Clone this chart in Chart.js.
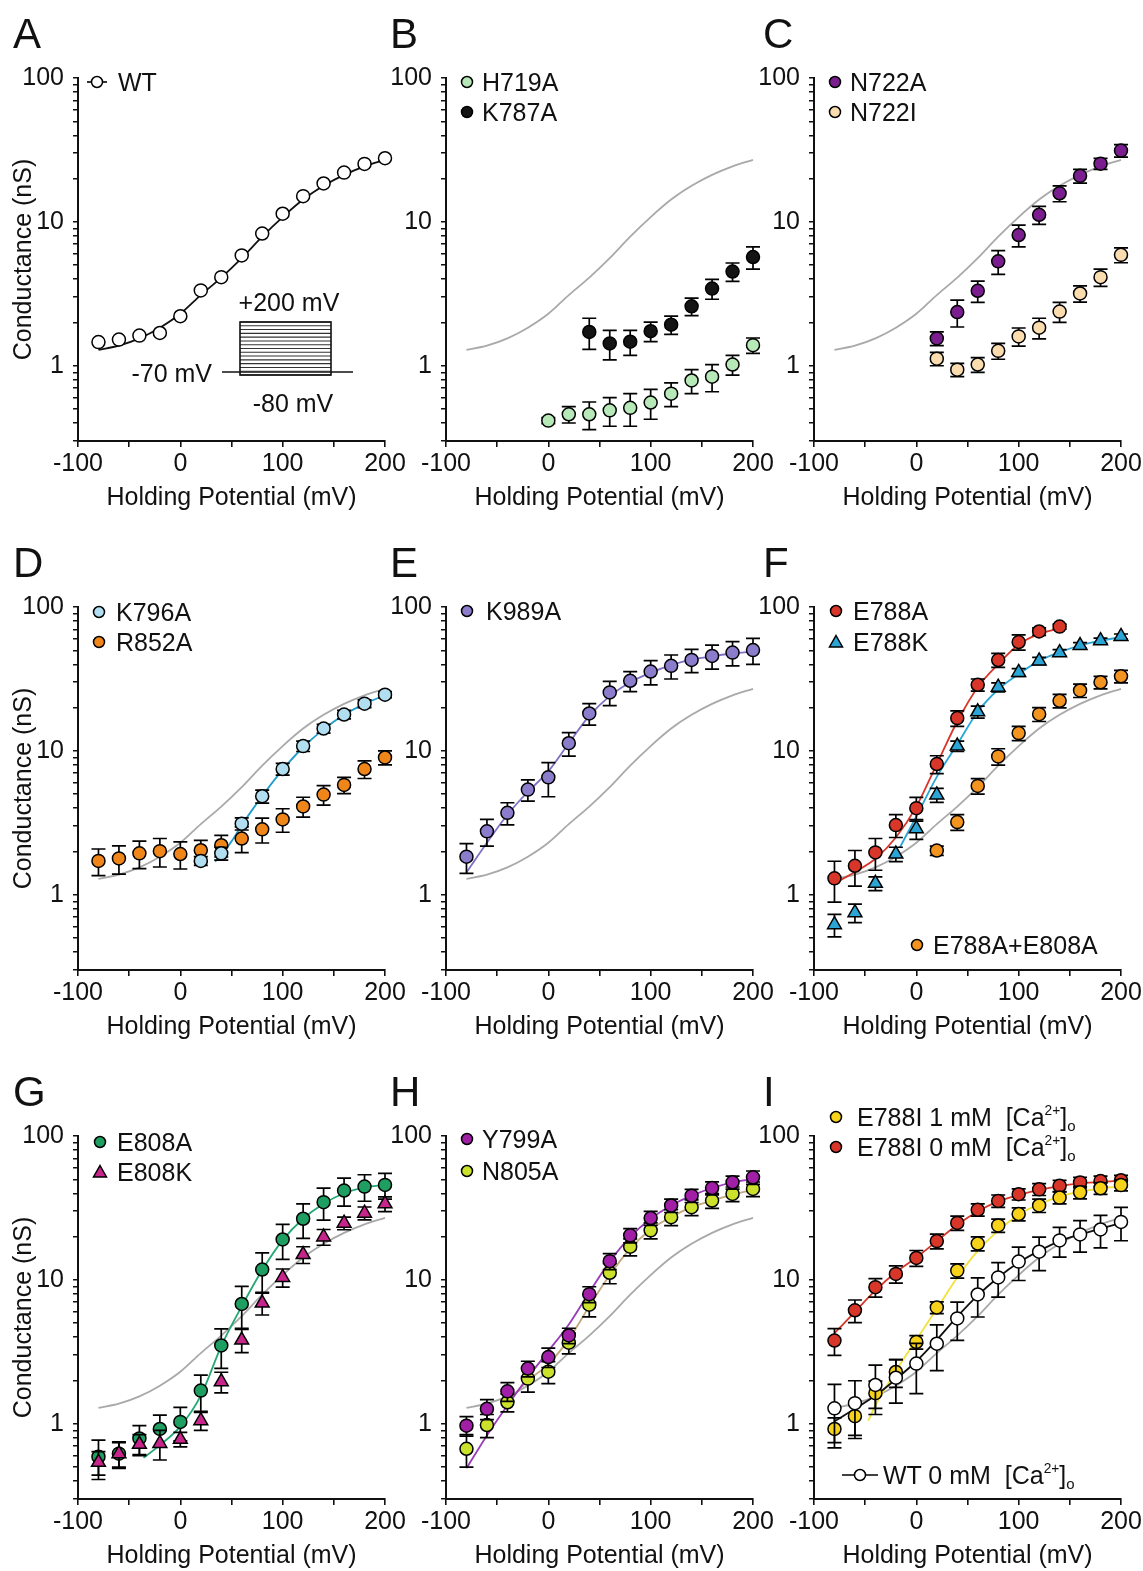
<!DOCTYPE html>
<html>
<head>
<meta charset="utf-8">
<script src="https://cdn.jsdelivr.net/npm/chart.js"></script>
<style>
html,body{margin:0;padding:0;background:#fff;}
body{width:1143px;height:1571px;position:relative;overflow:hidden;font-family:"Liberation Sans",Arial,Helvetica,sans-serif;color:#111;}
canvas{position:absolute;}
.letter{position:absolute;font-size:42px;line-height:1;z-index:5;}
.lt{position:absolute;font-size:25px;line-height:1;white-space:nowrap;transform:translateY(-50%);z-index:5;}
.lt sup{font-size:0.55em;line-height:0;vertical-align:0.8em;}
.lt sub{font-size:0.6em;line-height:0;vertical-align:-0.35em;}
svg.mk{position:absolute;z-index:5;overflow:visible;}
</style>
</head>
<body>
<script>
// ---------- data ----------
const V    = [-80,-60,-40,-20,0,20,40,60,80,100,120,140,160,180,200];
const V0   = [0,20,40,60,80,100,120,140,160,180,200];
const V20  = [20,40,60,80,100,120,140,160,180,200];
const V40  = [40,60,80,100,120,140,160,180,200];
const V140 = [-80,-60,-40,-20,0,20,40,60,80,100,120,140];

const yTicks  = [0.3,0.4,0.5,0.6,0.7,0.8,0.9,1,2,3,4,5,6,7,8,9,10,20,30,40,50,60,70,80,90,100];
const yLabels = [1,10,100];
const xTicks  = [-100,-50,0,50,100,150,200];
const xLabels = [-100,0,100,200];

// A
const wtG   = [1.46,1.52,1.62,1.69,2.21,3.34,4.13,5.85,8.3,11.4,15.1,18.5,22,25.3,27.7];
const wtFit = [1.29,1.38,1.55,1.84,2.3,3.1,4.1,5.6,7.9,10.8,14.3,17.8,21.2,24.3,27.0];
// B
const h719G = [0.416,0.46,0.46,0.49,0.51,0.555,0.64,0.79,0.84,1.02,1.39];
const h719E = [0.02,0.06,0.1,0.11,0.13,0.13,0.12,0.15,0.18,0.16,0.17];
const k787G = [1.72,1.43,1.47,1.74,1.93,2.59,3.44,4.52,5.7];
const k787E = [0.42,0.33,0.29,0.27,0.28,0.36,0.54,0.66,1.0];
// C
const n722aG = [1.55,2.36,3.32,5.32,8.1,11.2,15.8,20.9,25.4,31.3];
const n722aE = [0.17,0.5,0.56,1.0,1.4,1.6,2.0,2.3,2.2,3.1];
const n722iG = [1.12,0.94,1.02,1.27,1.6,1.84,2.38,3.18,4.13,5.9];
const n722iE = [0.12,0.1,0.12,0.16,0.23,0.3,0.38,0.41,0.57,0.7];
// D
const k796G = [1.72,1.94,3.12,4.84,7.48,10.8,14.3,17.9,21.3,24.6];
const k796E = [0.12,0.2,0.3,0.5,0.7,0.9,1.0,1.2,1.3,1.2];
const k796FitV = [34,40,50,60,80,100,120,140,160,180,200];
const k796Fit  = [1.7,1.9,2.35,3.05,4.85,7.4,10.6,14.1,17.8,21.2,24.4];
const r852G = [1.72,1.79,1.94,2.01,1.92,2.04,2.21,2.46,2.85,3.34,4.11,4.97,5.8,7.48,9.0];
const r852E = [0.36,0.4,0.42,0.45,0.41,0.35,0.38,0.5,0.56,0.62,0.65,0.77,0.75,1.05,1.0];
// E
const k989G = [1.84,2.76,3.71,5.38,6.55,11.3,18.2,25.5,30.7,35.6,39,42.9,45.7,48.2,50.2];
const k989E = [0.43,0.58,0.65,0.9,1.75,2.1,3.1,4.9,4.9,6.8,7.4,7.9,8.7,9.2,10.3];
const k989Fit = [1.43,2.3,3.6,5.2,7.2,11.3,17.5,24,30,35,39.5,43,45.5,47.5,49];
// F
const e788aG = [1.30,1.59,1.97,3.05,4.0,8.1,16.9,28.8,42.8,57.1,67.6,73.1];
const e788aE = [0.41,0.44,0.49,0.55,0.75,1.15,2.1,2.8,4.8,7,4,3];
const e788aFit = [1.2,1.44,1.78,2.5,4.1,8.1,16,27.7,40,54.8,65,71];
const e788kG = [0.62,0.75,1.2,1.92,2.88,4.94,10.8,18.7,27.7,35.1,42.2,48.1,54,58.3,62.4];
const e788kE = [0.11,0.11,0.13,0.22,0.45,0.55,0.9,1.8,2,2.2,2.5,2.5,2.5,2.5,2.5];
const e788kFitV = [-16,0,20,40,60,80,100,120,140,160,180,200];
const e788kFit  = [2.14,3.5,6.6,11.1,18.7,26.7,34.2,42.2,48.5,54,58.3,61.8];
const e788a808G = [2.03,3.2,5.71,9.15,13.3,18,22.3,26.3,30,33];
const e788a808E = [0.15,0.4,0.7,1.2,1.5,2,2.4,2.8,3,3.3];
// G
const e808aG = [0.59,0.62,0.79,0.92,1.03,1.70,3.5,6.8,11.8,19.1,26.6,34.7,41.8,44.5,45.7];
const e808aE = [0.18,0.13,0.18,0.23,0.27,0.48,1.07,2.2,3.6,5.2,7.2,8.7,9.2,9.3,9.3];
const e808aFitV = [-36,-20,0,20,40,60,80,100,120,140,160,180,200];
const e808aFit  = [0.58,0.71,0.96,1.57,3.47,6.55,11.7,18.9,26.6,33.8,40,44,45.7];
const e808kG = [0.54,0.62,0.72,0.73,0.78,1.05,1.96,3.82,6.9,10.4,15.0,19.9,24.8,29.1,33.8];
const e808kE = [0.1,0.12,0.12,0.17,0.09,0.15,0.32,0.7,1.2,1.5,2,2.5,2.5,3,4];
// H
const y799G = [0.97,1.27,1.68,2.42,2.91,4.11,7.96,13.5,20.4,26.9,32.9,38.5,43.5,47.7,51.6];
const y799E = [0.15,0.2,0.25,0.3,0.45,0.5,1,1.7,2.3,3,3.5,4,4.5,5,5.5];
const y799Fit = [0.49,0.83,1.34,2.1,3.2,4.9,8.2,13.4,19.9,26.6,32.9,38.5,43.5,47.7,50.2];
const n805G = [0.67,0.98,1.41,2.06,2.3,3.66,6.73,11.2,17,22.1,27.3,32,35.6,39.6,42.9];
const n805E = [0.17,0.18,0.2,0.4,0.4,0.6,1.2,1.8,2.3,2.8,3.5,4,4.2,4.6,5];
const n805FitV = [-40,-20,0,20,40,60,80,100,120,140,160,180,200];
const n805Fit  = [1.41,1.99,2.6,3.86,6.55,10.8,16.5,22.4,27.3,32,35.6,39.2,42.2];
// I
const e788i1G = [0.92,1.13,1.63,2.29,3.7,6.43,11.6,17.9,23.9,28.7,32.9,37.3,40.6,43.3,45.6];
const e788i1E = [0.18,0.3,0.35,0.5,0.4,0.6,1.3,2,2.5,3,3.5,3.5,4,4,4];
const e788i1FitV = [-47,-40,-20,0,20,40,60,80,100,120,140,160,180,200];
const e788i1Fit  = [1.05,1.34,2.32,3.83,6.3,10.4,15.9,22,28.4,33.6,37.9,41,43.3,44.4];
const e788i0G = [3.79,6.15,8.9,11,14.2,18.6,24.9,30.7,35.4,39.4,42.6,45.1,47.6,48.6,49.3];
const e788i0E = [0.8,1.1,1.3,1.5,1.8,2.2,2.8,3,3.5,3.5,4,4,4,4,4];
const e788i0Fit = [4.26,6.0,8.45,11.3,14.3,18.6,24.2,29.9,35.1,38.9,42.2,44.9,46.8,48,48.8];
const wt0G = [1.28,1.39,1.86,2.09,2.62,3.6,5.4,7.92,10.4,13.4,15.7,18.8,20.7,22.4,25.3];
const wt0E = [0.6,0.6,0.7,0.7,1.0,1.26,1.6,2.4,2.8,3.5,4.1,4.4,5.1,5.7,6.6];
const wt0Fit = [1.04,1.27,1.57,2.04,2.72,3.83,5.55,7.8,10.4,13.2,15.9,18.6,20.7,22.7,24.9];

// ---------- style / layout ----------
const FONT = '"Liberation Sans", Arial, Helvetica, sans-serif';
const FS = 25;
const INK = '#111';
const GRAY = '#a9a9a9';
const COLX = [78, 446, 814];
const ROWY = [78, 607, 1136];
const PW = 307, PH = 363;
const PADL = 78, PADT = 34, PADR = 30, XAH = 74, PADB = 0;

Chart.defaults.font.family = FONT;
Chart.defaults.color = INK;

function pts(xs, ys){ return xs.map((x,i)=>({x:x, y:ys[i]})); }
function curve(xs, ys, color, order){
  return {data:pts(xs,ys), showLine:true, pointRadius:0, borderColor:color, borderWidth:1.8,
          cubicInterpolationMode:'monotone', fill:false, order:order, clip:false};
}
function marks(xs, ys, errs, fill, style, order){
  return {data:pts(xs,ys), showLine:false, pointStyle:style||'circle',
          pointRadius: style==='triangle' ? 8 : 6.5, backgroundColor:fill, borderColor:'#000',
          borderWidth:1.5, errors:errs, order:order, clip:false};
}

const errorBars = {
  id:'errorBars',
  beforeDatasetDraw(chart, args){
    const ds = chart.data.datasets[args.index];
    if(!ds.errors) return;
    const xs = chart.scales.x, ys = chart.scales.y, ctx = chart.ctx;
    ctx.save(); ctx.strokeStyle = '#000'; ctx.lineWidth = 1.7;
    ds.data.forEach((p,i)=>{
      const e = ds.errors[i]; if(!e) return;
      const px = xs.getPixelForValue(p.x);
      const hi = ys.getPixelForValue(p.y + e);
      const lo = ys.getPixelForValue(Math.max(p.y - e, 0.05));
      ctx.beginPath();
      ctx.moveTo(px,hi); ctx.lineTo(px,lo);
      ctx.moveTo(px-7,hi); ctx.lineTo(px+7,hi);
      ctx.moveTo(px-7,lo); ctx.lineTo(px+7,lo);
      ctx.stroke();
    });
    ctx.restore();
  }
};

const C = {
  h719:'#b6e8b8', k787:'#141414', n722a:'#7a1d8e', n722i:'#fbdcae', k796:'#b2def2', k796l:'#1e9ccb',
  r852:'#f0861a', k989:'#8c7dcc', k989l:'#8070c4', e788a:'#d9362a', e788k:'#2aa5d6', e788a808:'#f39320',
  e808a:'#1f9e62', e808al:'#22a874', e808k:'#c7258c', y799:'#a11fa6', y799l:'#9a3cb8', n805:'#cbe12c',
  n805l:'#c2a97e', e788i1:'#f6d21a', e788i1l:'#f2e23a', e788i0:'#d9362a', wt:'#ffffff'
};

const panels = [
  {key:'A', row:0, col:0, datasets:[ curve(V,wtFit,'#111',10), marks(V,wtG,null,C.wt,'circle',0) ],
   legend:[{m:'lc', fill:C.wt, cx:19, lw:20, cy:4, tx:40, t:'WT'}]},
  {key:'B', row:0, col:1, datasets:[ curve(V,wtFit,GRAY,20), marks(V40,k787G,k787E,C.k787,'circle',1), marks(V0,h719G,h719E,C.h719,'circle',0) ],
   legend:[{m:'c', fill:C.h719, cx:21, cy:4, tx:36, t:'H719A'},{m:'c', fill:C.k787, cx:21, cy:34, tx:36, t:'K787A'}]},
  {key:'C', row:0, col:2, datasets:[ curve(V,wtFit,GRAY,20), marks(V20,n722iG,n722iE,C.n722i,'circle',1), marks(V20,n722aG,n722aE,C.n722a,'circle',0) ],
   legend:[{m:'c', fill:C.n722a, cx:21, cy:4, tx:36, t:'N722A'},{m:'c', fill:C.n722i, cx:21, cy:34, tx:36, t:'N722I'}]},
  {key:'D', row:1, col:0, datasets:[ curve(V,wtFit,GRAY,20), curve(k796FitV,k796Fit,C.k796l,10), marks(V,r852G,r852E,C.r852,'circle',1), marks(V20,k796G,k796E,C.k796,'circle',0) ],
   legend:[{m:'c', fill:C.k796, cx:21, cy:5, tx:38, t:'K796A'},{m:'c', fill:C.r852, cx:21, cy:35, tx:38, t:'R852A'}]},
  {key:'E', row:1, col:1, datasets:[ curve(V,wtFit,GRAY,20), curve(V,k989Fit,C.k989l,10), marks(V,k989G,k989E,C.k989,'circle',0) ],
   legend:[{m:'c', fill:C.k989, cx:21, cy:4, tx:40, t:'K989A'}]},
  {key:'F', row:1, col:2, datasets:[ curve(V,wtFit,GRAY,20), curve(V140,e788aFit,C.e788a,10), curve(e788kFitV,e788kFit,C.e788k,11),
      marks(V20,e788a808G,e788a808E,C.e788a808,'circle',2), marks(V,e788kG,e788kE,C.e788k,'triangle',1), marks(V140,e788aG,e788aE,C.e788a,'circle',0) ],
   legend:[{m:'c', fill:C.e788a, cx:22, cy:4, tx:39, t:'E788A'},{m:'t', fill:C.e788k, cx:22, cy:35, tx:39, t:'E788K'},
           {m:'c', fill:C.e788a808, cx:103, cy:338, tx:119, t:'E788A+E808A'}]},
  {key:'G', row:2, col:0, datasets:[ curve(V,wtFit,GRAY,20), curve(e808aFitV,e808aFit,C.e808al,10),
      marks(V,e808aG,e808aE,C.e808a,'circle',1), marks(V,e808kG,e808kE,C.e808k,'triangle',0) ],
   legend:[{m:'c', fill:C.e808a, cx:22, cy:6, tx:39, t:'E808A'},{m:'t', fill:C.e808k, cx:22, cy:36, tx:39, t:'E808K'}]},
  {key:'H', row:2, col:1, datasets:[ curve(V,wtFit,GRAY,20), curve(n805FitV,n805Fit,C.n805l,11), curve(V,y799Fit,C.y799l,10),
      marks(V,n805G,n805E,C.n805,'circle',1), marks(V,y799G,y799E,C.y799,'circle',0) ],
   legend:[{m:'c', fill:C.y799, cx:21, cy:3, tx:36, t:'Y799A'},{m:'c', fill:C.n805, cx:21, cy:35, tx:36, t:'N805A'}]},
  {key:'I', row:2, col:2, datasets:[ curve(V,wtFit,GRAY,20), curve(e788i1FitV,e788i1Fit,C.e788i1l,12), curve(V,e788i0Fit,C.e788i0,11), curve(V,wt0Fit,'#111',10),
      marks(V,e788i0G,e788i0E,C.e788i0,'circle',2), marks(V,e788i1G,e788i1E,C.e788i1,'circle',1), marks(V,wt0G,wt0E,C.wt,'circle',0) ],
   legend:[{m:'c', fill:C.e788i1, cx:22, cy:-19, tx:43, t:'E788I 1 mM&nbsp;&nbsp;[Ca<sup>2+</sup>]<sub>o</sub>'},
           {m:'c', fill:C.e788i0, cx:22, cy:11, tx:43, t:'E788I 0 mM&nbsp;&nbsp;[Ca<sup>2+</sup>]<sub>o</sub>'},
           {m:'lc', fill:C.wt, cx:46, lw:36, cy:339, tx:69, t:'WT 0 mM&nbsp;&nbsp;[Ca<sup>2+</sup>]<sub>o</sub>'}]}
];

function axisFont(){ return {family:FONT, size:FS}; }

function makeChart(p){
  const c = document.createElement('canvas');
  const W = PADL + PW + PADR, H = PADT + PH + XAH + PADB;
  c.width = W; c.height = H;
  c.style.left = (COLX[p.col]-PADL)+'px';
  c.style.top = (ROWY[p.row]-PADT)+'px';
  c.style.width = W+'px'; c.style.height = H+'px';
  document.body.appendChild(c);
  new Chart(c, {
    type:'scatter',
    data:{datasets:p.datasets},
    options:{
      responsive:false, animation:false, devicePixelRatio:1, events:[],
      layout:{padding:{left:0, top:PADT, right:PADR, bottom:PADB}},
      plugins:{legend:{display:false}, tooltip:{enabled:false}},
      scales:{
        x:{type:'linear', min:-100, max:200,
           afterBuildTicks:s=>{ s.ticks = xTicks.map(v=>({value:v})); },
           afterFit:s=>{ s.height = XAH; },
           ticks:{callback:v=>xLabels.includes(v)?String(v):'', autoSkip:false, maxRotation:0, minRotation:0, padding:2, font:axisFont(), color:INK},
           grid:{drawOnChartArea:false, drawTicks:true, tickLength:6, color:INK, lineWidth:1.6},
           border:{display:true, color:INK, width:2},
           title:{display:true, text:'Holding Potential (mV)', font:axisFont(), color:INK, padding:{top:0,bottom:2}}},
        y:{type:'logarithmic', min:0.3, max:100,
           afterBuildTicks:s=>{ s.ticks = yTicks.map(v=>({value:v})); },
           afterFit:s=>{ s.width = PADL; },
           ticks:{callback:v=>yLabels.includes(v)?String(v):'', autoSkip:false, padding:9, font:axisFont(), color:INK},
           grid:{drawOnChartArea:false, drawTicks:true, tickLength:5, color:INK, lineWidth:1.5},
           border:{display:true, color:INK, width:2},
           title:{display:p.col===0, text:'Conductance (nS)', font:axisFont(), color:INK, padding:{top:9,bottom:0}}}
      }
    },
    plugins:[errorBars]
  });
}

function markerSVG(m, fill, x, y, lw){
  if(m==='lc'){
    const h = lw/2;
    return `<svg class="mk" width="${lw}" height="16" style="left:${x-h}px;top:${y-8}px"><line x1="0" y1="8" x2="${lw}" y2="8" stroke="#000" stroke-width="1.6"/><circle cx="${h}" cy="8" r="5.5" fill="${fill}" stroke="#000" stroke-width="1.5"/></svg>`;
  }
  if(m==='t'){
    return `<svg class="mk" width="16" height="16" style="left:${x-8}px;top:${y-8}px"><polygon points="8,1.5 14.5,13 1.5,13" fill="${fill}" stroke="#000" stroke-width="1.5"/></svg>`;
  }
  return `<svg class="mk" width="16" height="16" style="left:${x-8}px;top:${y-8}px"><circle cx="8" cy="8" r="5.5" fill="${fill}" stroke="#000" stroke-width="1.5"/></svg>`;
}

const LETTERX = [13, 390, 763];
let html = '';
panels.forEach(p=>{
  makeChart(p);
  const X0 = COLX[p.col], Y0 = ROWY[p.row];
  html += `<div class="letter" style="left:${LETTERX[p.col]}px;top:${Y0-65}px">${p.key}</div>`;
  p.legend.forEach(e=>{
    html += markerSVG(e.m, e.fill, X0+e.cx, Y0+e.cy, e.lw);
    html += `<div class="lt" style="left:${X0+e.tx}px;top:${Y0+e.cy}px">${e.t}</div>`;
  });
});

// Panel A inset: voltage protocol
let lines = '';
for(let k=0;k<15;k++){ const yy = 95 - k*53/14; lines += `<line x1="120" y1="${yy}" x2="211" y2="${yy}" stroke="#333" stroke-width="1.1"/>`; }
html += `<svg class="mk" width="260" height="140" style="left:120px;top:280px;font-family:${FONT.replace(/"/g,"'")};font-size:25px">
  <text x="169" y="22" text-anchor="middle" dominant-baseline="central" fill="#111">+200 mV</text>
  <line x1="102" y1="92" x2="233" y2="92" stroke="#111" stroke-width="1.6"/>
  ${lines}
  <rect x="120" y="42" width="91" height="53" fill="none" stroke="#111" stroke-width="1.6"/>
  <text x="92" y="93" text-anchor="end" dominant-baseline="central" fill="#111">-70 mV</text>
  <text x="173" y="123" text-anchor="middle" dominant-baseline="central" fill="#111">-80 mV</text>
</svg>`;

const ov = document.createElement('div');
ov.innerHTML = html;
document.body.appendChild(ov);
</script>
</body>
</html>
